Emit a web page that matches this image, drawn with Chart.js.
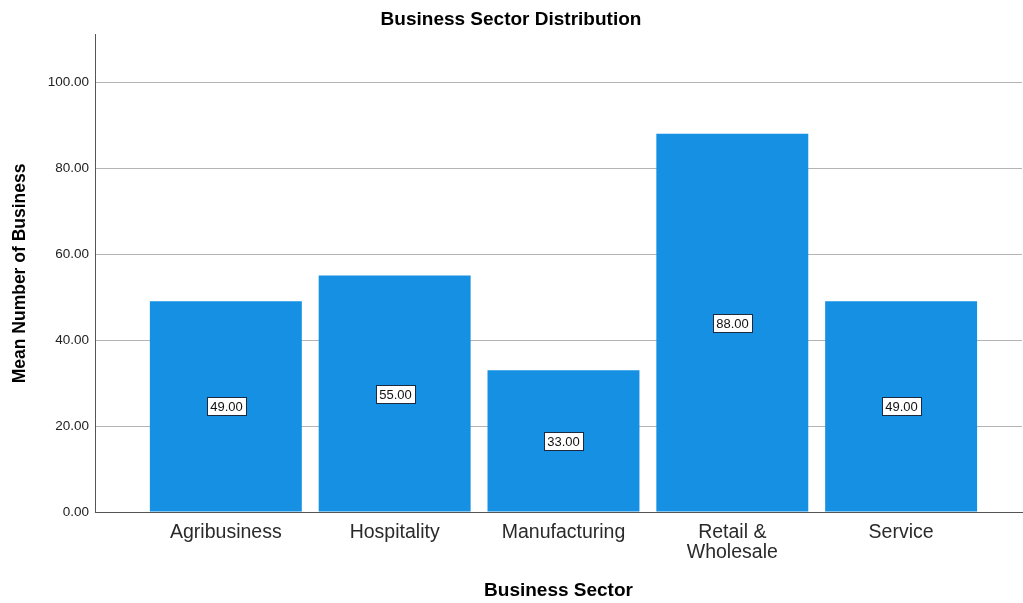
<!DOCTYPE html>
<html>
<head>
<meta charset="utf-8">
<script src="https://cdn.jsdelivr.net/npm/chart.js@4/dist/chart.umd.min.js"></script>
<style>
  body { margin: 0; background: #fff; }
  canvas { display: block; }
</style>
</head>
<body>
<canvas id="sectorChart" width="1023" height="603"></canvas>
<script>
// Chart data
const sectors = ['Agribusiness', 'Hospitality', 'Manufacturing', ['Retail &', 'Wholesale'], 'Service'];
const meanBusinesses = [49, 55, 33, 88, 49];
const yTicks = [0, 20, 40, 60, 80, 100];

// Value boxes in the middle of each bar
const valueBoxes = {
    id: 'valueBoxes',
    afterDatasetsDraw(chart) {
        const ctx = chart.ctx;
        const meta = chart.getDatasetMeta(0);
        ctx.save();
        ctx.font = '13px "Liberation Sans", Arial, sans-serif';
        ctx.textAlign = 'center';
        ctx.textBaseline = 'middle';
        meta.data.forEach((bar, i) => {
            const text = meanBusinesses[i].toFixed(2);
            const w = Math.round(ctx.measureText(text).width + 6);
            const h = 18;
            const cx = Math.round(bar.x);
            const cy = Math.round((bar.y + bar.base) / 2);
            const left = Math.round(cx - w / 2);
            ctx.fillStyle = '#ffffff';
            ctx.fillRect(left, cy - h / 2, w, h);
            ctx.strokeStyle = '#1c2940';
            ctx.lineWidth = 1;
            ctx.strokeRect(left + 0.5, cy - h / 2 + 0.5, w, h);
            ctx.fillStyle = '#111';
            ctx.fillText(text, cx + 0.5, cy + 1);
        });
        ctx.restore();
    }
};

const ctx = document.getElementById('sectorChart').getContext('2d');
new Chart(ctx, {
    type: 'bar',
    data: {
        datasets: [{
            label: 'Mean Number of Business',
            data: meanBusinesses.map((v, i) => ({ x: i, y: v })),
            backgroundColor: '#1590e3',
            barPercentage: 0.9,
            categoryPercentage: 1.0
        }]
    },
    options: {
        responsive: false,
        animation: false,
        layout: { padding: { top: 0, right: 1, bottom: 0, left: 0 } },
        plugins: {
            legend: { display: false },
            tooltip: { enabled: false },
            title: {
                display: true,
                text: 'Business Sector Distribution',
                color: '#000',
                font: { family: '"Liberation Sans", Arial, sans-serif', size: 19, weight: 'bold' },
                padding: { top: 8, bottom: 4 }
            }
        },
        scales: {
            x: {
                type: 'linear',
                offset: false,
                min: -0.775,
                max: 4.716,
                grid: { display: false },
                border: { display: true, color: '#555', width: 1 },
                afterBuildTicks(scale) {
                    scale.ticks = sectors.map((s, i) => ({ value: i }));
                },
                afterFit(scale) { scale.height = 91; },
                ticks: {
                    autoSkip: false,
                    maxRotation: 0,
                    padding: 3,
                    color: '#2a2a2a',
                    font: { family: '"Liberation Sans", Arial, sans-serif', size: 19.5, lineHeight: 1.0 },
                    callback: (v) => sectors[v]
                },
                title: {
                    display: true,
                    text: 'Business Sector',
                    color: '#000',
                    font: { family: '"Liberation Sans", Arial, sans-serif', size: 19, weight: 'bold' },
                    padding: { top: 0, bottom: 1 }
                }
            },
            y: {
                min: 0,
                max: 111,
                afterBuildTicks(scale) {
                    scale.ticks = yTicks.map(v => ({ value: v }));
                },
                afterFit(scale) { scale.width = 95; },
                grid: { color: '#b4b4b4', drawTicks: false },
                border: { display: true, color: '#555', width: 1 },
                ticks: {
                    padding: 6,
                    color: '#222',
                    font: { family: '"Liberation Sans", Arial, sans-serif', size: 13.5 },
                    callback: (v) => v.toFixed(2)
                },
                title: {
                    display: true,
                    text: 'Mean Number of Business',
                    color: '#000',
                    font: { family: '"Liberation Sans", Arial, sans-serif', size: 17.5, weight: 'bold' },
                    padding: { top: 10, bottom: 0 }
                }
            }
        }
    },
    plugins: [valueBoxes]
});
</script>
</body>
</html>
